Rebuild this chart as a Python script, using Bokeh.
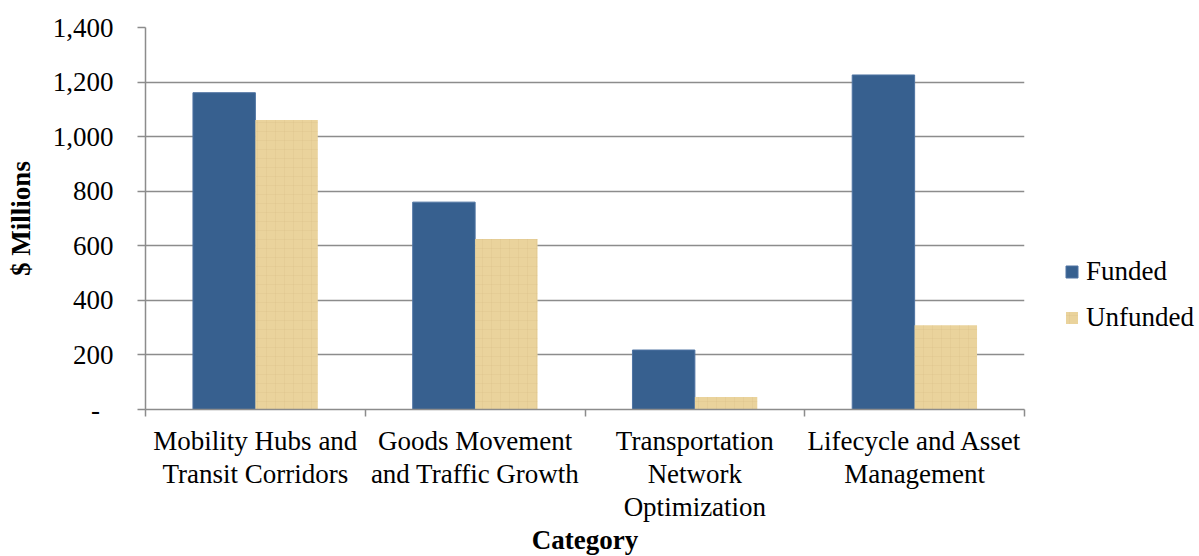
from bokeh.plotting import figure
from bokeh.models import (Range1d, LinearAxis, FixedTicker,
                          NumeralTickFormatter, Legend, LegendItem, ColumnDataSource)
from bokeh.embed import file_html
from bokeh.resources import INLINE

categories = ["Mobility Hubs and\nTransit Corridors",
              "Goods Movement\nand Traffic Growth",
              "Transportation\nNetwork\nOptimization",
              "Lifecycle and Asset\nManagement"]
funded = [1161, 760, 218, 1226]
unfunded = [1061, 625, 46, 309]
y_ticks = [0, 200, 400, 600, 800, 1000, 1200, 1400]

FONT = "Liberation Serif"
GRAY = "#8C8C8C"
BLUE = "#37608F"
TAN = "#EAD39C"

n = len(categories)
centers = [i + 0.5 for i in range(n)]
BW = 0.284
src = ColumnDataSource(dict(cat=categories, funded=funded, unfunded=unfunded,
                            xf=[c - BW / 2 for c in centers], xu=[c + BW / 2 for c in centers]))

p = figure(x_range=Range1d(0, n), y_range=Range1d(0, 1400),
           frame_width=879, frame_height=382,
           min_border_left=145, min_border_right=175, min_border_top=27, min_border_bottom=147,
           output_backend="svg", toolbar_location=None, x_axis_location=None)
p.outline_line_color = None
p.background_fill_color = "white"
p.border_fill_color = "white"

r1 = p.vbar(x="xf", top="funded", width=BW, source=src,
            fill_color=BLUE, line_color="#4E73A2", line_width=1)
r2 = p.vbar(x="xu", top="unfunded", width=BW, source=src,
            fill_color=TAN, line_color=None,
            hatch_pattern="+", hatch_color="#D6BD84", hatch_alpha=0.25, hatch_scale=9, hatch_weight=1)

# y axis
yax = p.yaxis[0]
yax.ticker = FixedTicker(ticks=y_ticks)
yax.formatter = NumeralTickFormatter(format="0,0")
yax.major_label_overrides = {0: "-\u00a0\u00a0"}
yax.major_tick_out = 8
yax.major_tick_in = 0
yax.minor_tick_line_color = None
yax.major_tick_line_color = GRAY
yax.axis_line_color = GRAY
yax.axis_line_width = 1.5
yax.major_tick_line_width = 1.5
yax.major_label_text_font = FONT
yax.major_label_text_font_size = "27px"
yax.major_label_text_color = "black"
yax.major_label_standoff = 24
yax.axis_label = "$ Millions"
yax.axis_label_text_font = FONT
yax.axis_label_text_font_size = "27px"
yax.axis_label_text_font_style = "bold"
yax.axis_label_text_color = "black"
yax.axis_label_standoff = 14

p.ygrid.ticker = FixedTicker(ticks=y_ticks)
p.ygrid.grid_line_color = GRAY
p.ygrid.grid_line_width = 1.5
p.xgrid.visible = False

# x axis: labels at category centres, tick marks at category boundaries
cat_axis = LinearAxis(ticker=FixedTicker(ticks=centers, minor_ticks=list(range(n + 1))),
                      major_label_overrides={c: lab for c, lab in zip(centers, categories)},
                      axis_line_color=GRAY, axis_line_width=1.5,
                      major_tick_line_color=None, major_tick_out=0, major_tick_in=0,
                      minor_tick_line_color=GRAY, minor_tick_line_width=1.5,
                      minor_tick_out=7, minor_tick_in=0,
                      major_label_text_font=FONT, major_label_text_font_size="27px",
                      major_label_text_color="black", major_label_text_line_height=1.1,
                      major_label_standoff=9,
                      axis_label="Category", axis_label_text_font=FONT,
                      axis_label_text_font_size="27px", axis_label_text_font_style="bold",
                      axis_label_text_color="black", axis_label_standoff=0)
p.add_layout(cat_axis, "below")

legend = Legend(items=[LegendItem(label="Funded", renderers=[r1]),
                       LegendItem(label="Unfunded", renderers=[r2])],
                location=(40, 76), orientation="vertical",
                padding=0, margin=0, spacing=15, border_line_color=None,
                background_fill_alpha=0, glyph_width=15, glyph_height=15,
                label_standoff=7, label_text_font=FONT, label_text_font_size="27px",
                label_text_color="black")
p.add_layout(legend, "right")

open("out.html", "w").write(file_html(p, INLINE))
